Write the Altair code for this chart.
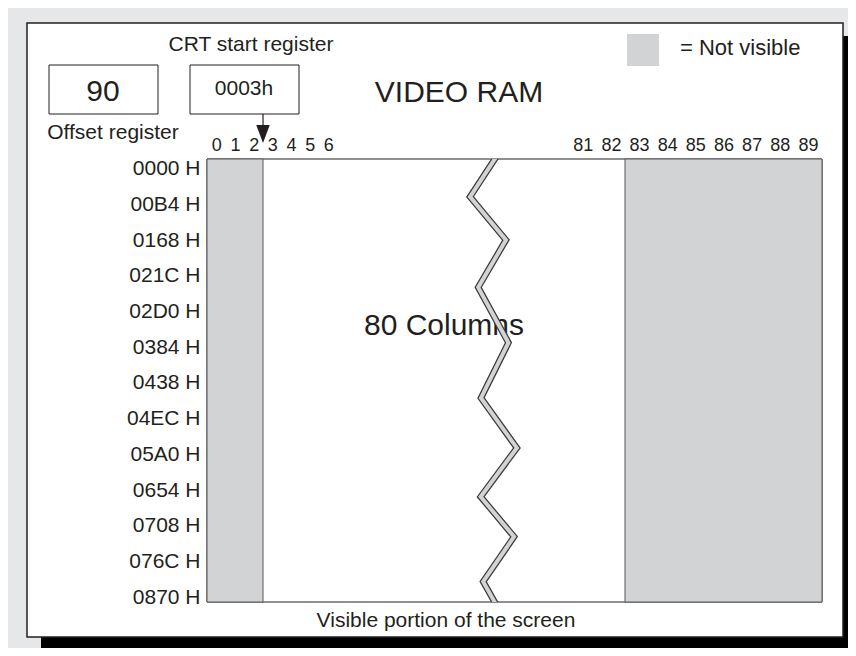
import json
import altair as alt
import pandas as pd

# ---------------- data ----------------
row_labels = ["0000 H", "00B4 H", "0168 H", "021C H", "02D0 H", "0384 H", "0438 H",
              "04EC H", "05A0 H", "0654 H", "0708 H", "076C H", "0870 H"]
col_labels_left = [0, 1, 2, 3, 4, 5, 6]
col_labels_right = [81, 82, 83, 84, 85, 86, 87, 88, 89]
hidden_start = [0, 83]
hidden_end = [3, 90]
zig_col = [59.2, 49.4, 60.9, 52.0, 61.7, 52.9, 64.4, 52.8, 63.5, 53.6, 58.7]
zig_row = [-0.53, 0.78, 1.99, 3.32, 4.87, 6.42, 7.82, 9.19, 10.31, 11.57, 12.36]
offset_register = "90"
crt_start = "0003h"
crt_start_col = 3
screen_cols = [0, 90]
row_extent = [-0.28, 12.14]
center_text = "80 Columns"
center_col, center_row = 41.05, 4.4

# ---------------- style ----------------
FONT = "Liberation Sans"
INK = "#231f20"
GREY = "#d1d3d4"
BG = "#e6e7e8"
W, H = 615, 443

x_scale = alt.Scale(domain=[0, 7, 81, 90], range=[0, 130.7, 361.7, W], nice=False, zero=False)
y_scale = alt.Scale(domain=row_extent, reverse=True, nice=False, zero=False)

tick_vals = [v + 0.5 for v in col_labels_left + col_labels_right]
x_axis = alt.Axis(
    orient="top", values=tick_vals, labelExpr="floor(datum.value)",
    ticks=False, domain=False, grid=False, labelPadding=14, labelBaseline="middle",
    labelFont=FONT, labelFontSize=18, labelColor=INK, title=None, zindex=1,
    labelOverlap=False, labelFlush=False)
y_axis = alt.Axis(
    values=list(range(len(row_labels))),
    labelExpr=json.dumps(row_labels) + "[datum.value]",
    ticks=False, domain=False, grid=False, labelPadding=7,
    labelFont=FONT, labelFontSize=21, labelColor=INK, title=None, zindex=1,
    labelOverlap=False, labelFlush=False)


def X(f):
    return alt.X(f, type="quantitative", scale=x_scale, axis=x_axis)


def Y(f):
    return alt.Y(f, type="quantitative", scale=y_scale, axis=y_axis)


one = pd.DataFrame({"k": [0]})


def box(x, x2, y, y2, fill, stroke=None, sw=1.0):
    kw = dict(fill=fill)
    if stroke:
        kw.update(stroke=stroke, strokeWidth=sw)
    return alt.Chart(one).mark_rect(**kw).encode(
        x=alt.value(x), x2=alt.value(x2), y=alt.value(y), y2=alt.value(y2))


def label(text, x, y, size, align="center"):
    return alt.Chart(pd.DataFrame({"t": [text]})).mark_text(
        font=FONT, fontSize=size, align=align, baseline="middle", color=INK
    ).encode(text="t:N", x=alt.value(x), y=alt.value(y))


shadow = box(-166, 641, -123, 489, "#000000")
frame = box(-180, 636, -136, 478, "#ffffff", INK, 1.5)
legend_sq = box(420, 452, -125, -93, GREY)
box90 = box(-158, -49, -94, -45, "#ffffff", INK, 1)
box_crt = box(-17, 92, -94, -45, "#ffffff", INK, 1)

screen_df = pd.DataFrame({"x0": [screen_cols[0]], "x1": [screen_cols[1]],
                          "y0": [row_extent[0]], "y1": [row_extent[1]]})
screen = alt.Chart(screen_df).mark_rect(fill="#ffffff", stroke=INK, strokeWidth=1).encode(
    x=X("x0"), x2="x1", y=Y("y0"), y2="y1")

hidden_df = pd.DataFrame({"s": hidden_start, "e": hidden_end,
                          "y0": [row_extent[0]] * 2, "y1": [row_extent[1]] * 2})
hidden = alt.Chart(hidden_df).mark_rect(fill=GREY, stroke="#58595b", strokeWidth=1).encode(
    x=X("s"), x2="e", y=Y("y0"), y2="y1")

center = alt.Chart(pd.DataFrame({"t": [center_text], "c": [center_col], "r": [center_row]})).mark_text(
    font=FONT, fontSize=30, color=INK, align="center", baseline="middle").encode(
    text="t:N", x=X("c"), y=Y("r"))

zig_df = pd.DataFrame({"c": zig_col, "r": zig_row, "i": list(range(len(zig_col)))})
zig_base = alt.Chart(zig_df).encode(x=X("c"), y=Y("r"), order="i:Q")
zig_outer = zig_base.mark_line(color="#3a3a3a", strokeWidth=6.5, strokeJoin="miter", clip=True)
zig_inner = zig_base.mark_line(color=GREY, strokeWidth=4, strokeJoin="miter", clip=True)

arrow_df = pd.DataFrame({"c": [crt_start_col]})
arrow_line = alt.Chart(arrow_df).mark_rule(color=INK, strokeWidth=1.2).encode(
    x=X("c"), y=alt.value(-45), y2=alt.value(-32))
arrow_head = alt.Chart(arrow_df).mark_point(
    shape="M-0.75,-1L0.75,-1L0,1Z", filled=True, fill=INK, color=INK, opacity=1, size=324
).encode(x=X("c"), y=alt.value(-25))

texts = [
    label("= Not visible", 473, -111, 22, "left"),
    label("VIDEO RAM", 252, -66, 30),
    label(offset_register, -104, -67, 30),
    label(crt_start, 37, -70, 21),
    label("CRT start register", 44, -114, 21),
    label("Offset register", -94, -26, 21),
    label("Visible portion of the screen", 239, 462, 21),
]

chart = alt.layer(
    shadow, frame, legend_sq, box90, box_crt,
    screen, hidden, center, zig_outer, zig_inner,
    arrow_line, arrow_head, *texts
).properties(
    width=W, height=H,
    padding={"left": 199, "top": 151, "right": 26, "bottom": 46},
    autosize=alt.AutoSizeParams(type="none"),
    background=BG,
).configure_view(stroke=None)

chart.save("out.html", embed_options={"renderer": "svg", "actions": False})
